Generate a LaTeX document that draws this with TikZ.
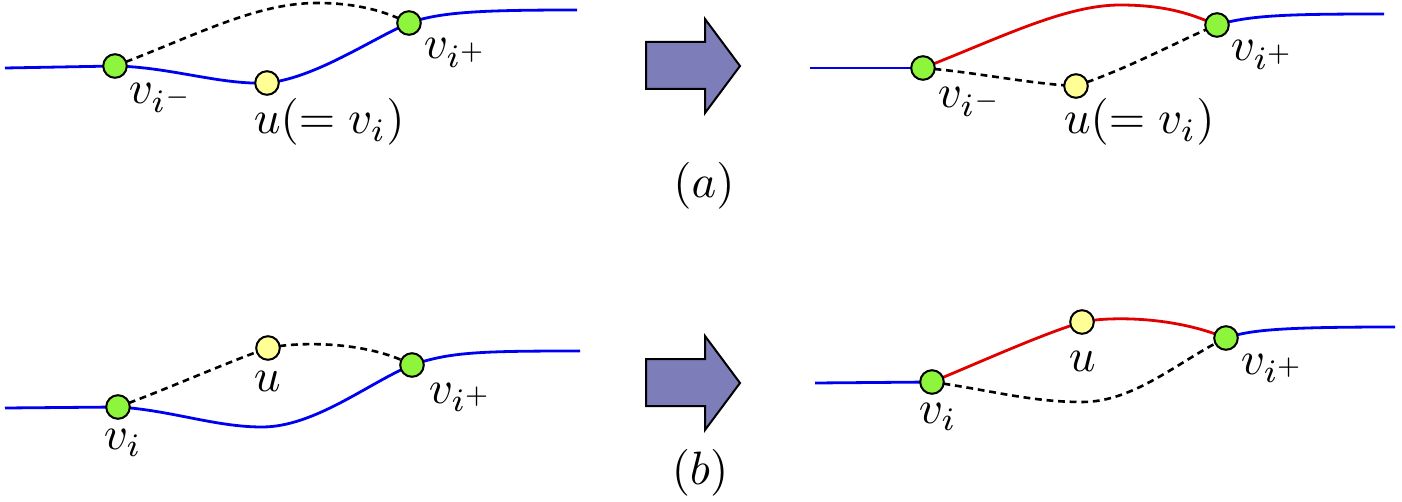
\documentclass[tikz,border=0pt]{standalone}
\usepackage{graphicx}
\definecolor{gfill}{RGB}{140,245,60}
\definecolor{yfill}{RGB}{255,255,150}
\definecolor{afill}{RGB}{125,125,185}
\definecolor{pblue}{RGB}{0,0,240}
\definecolor{pred}{RGB}{225,0,0}
\newcommand{\mylbl}[1]{\scalebox{1.17}{$#1$}}
\tikzset{
  gnode/.style={circle,draw=black,line width=0.5pt,fill=gfill,minimum size=5.9pt,inner sep=0pt},
  ynode/.style={circle,draw=black,line width=0.5pt,fill=yfill,minimum size=5.9pt,inner sep=0pt},
  bline/.style={draw=pblue,line width=0.7pt},
  rline/.style={draw=pred,line width=0.7pt},
  dline/.style={draw=black,line width=0.65pt,dash pattern=on 1.7pt off 1.2pt},
  lbl/.style={anchor=base west,inner sep=0pt},
  captext/.style={anchor=center,inner sep=0pt},
  bigarrow/.style={draw=black,line width=0.5pt,fill=afill,line join=miter}
}
\begin{document}
\begin{tikzpicture}[x=0.25pt,y=-0.25pt]
\useasboundingbox (0,0) rectangle (1402,502);
% ---------- (a) left ----------
\coordinate (L1) at (5,68);
\coordinate (A1) at (115,66);
\coordinate (U1) at (267,83);
\coordinate (B1) at (409,23);
\coordinate (R1) at (577,10);
\coordinate (P1) at (317,3);
\draw[bline] (L1) -- (A1) .. controls (170,67) and (220,85) .. (U1)
  .. controls (315,78) and (370,40) .. (B1) .. controls (440,12) and (480,10) .. (R1);
\draw[dline] (A1) .. controls (195,36) and (255,3) .. (P1) .. controls (365,3) and (392,15) .. (B1);
\node[gnode] (nA1) at (A1) {};
\node[ynode] (nU1) at (U1) {};
\node[gnode] (nB1) at (B1) {};
\node[lbl] (tA1) at (128,104) {\mylbl{v_{i^-}}};
\node[lbl] (tU1) at (253,134) {\mylbl{u(=v_i)}};
\node[lbl] (tB1) at (423,59) {\mylbl{v_{i^+}}};
% ---------- (a) right ----------
\coordinate (L2) at (810,68);
\coordinate (A2) at (923,68);
\coordinate (U2) at (1076,86);
\coordinate (B2) at (1217,25);
\coordinate (R2) at (1384,14);
\coordinate (P2) at (1120,5);
\draw[bline] (L2) -- (A2);
\draw[bline] (B2) .. controls (1250,15) and (1290,14) .. (R2);
\draw[rline] (A2) .. controls (1000,38) and (1065,5) .. (P2) .. controls (1170,5) and (1195,16) .. (B2);
\draw[dline] (A2) .. controls (975,72) and (1030,84) .. (U2);
\draw[dline] (U2) .. controls (1130,68) and (1180,40) .. (B2);
\node[gnode] (nA2) at (A2) {};
\node[ynode] (nU2) at (U2) {};
\node[gnode] (nB2) at (B2) {};
\node[lbl] (tA2) at (937,108) {\mylbl{v_{i^-}}};
\node[lbl] (tU2) at (1063,134) {\mylbl{u(=v_i)}};
\node[lbl] (tB2) at (1230,61) {\mylbl{v_{i^+}}};
% ---------- (b) left ----------
\coordinate (L3) at (5,408);
\coordinate (A3) at (118,407);
\coordinate (U3) at (268,348);
\coordinate (B3) at (412,365);
\coordinate (R3) at (580,351);
\coordinate (D3) at (262,427);
\draw[bline] (L3) -- (A3) .. controls (170,410) and (215,427) .. (D3)
  .. controls (315,427) and (370,382) .. (B3) .. controls (450,352) and (480,351) .. (R3);
\draw[dline] (A3) .. controls (170,388) and (225,363) .. (U3);
\draw[dline] (U3) .. controls (295,342) and (365,340) .. (B3);
\node[gnode] (nA3) at (A3) {};
\node[ynode] (nU3) at (U3) {};
\node[gnode] (nB3) at (B3) {};
\node[lbl] (tA3) at (103,449) {\mylbl{v_i}};
\node[lbl] (tU3) at (253,391) {\mylbl{u}};
\node[lbl] (tB3) at (428,403) {\mylbl{v_{i^+}}};
% ---------- (b) right ----------
\coordinate (L4) at (815,383);
\coordinate (A4) at (932,382);
\coordinate (U4) at (1082,322);
\coordinate (B4) at (1226,338);
\coordinate (R4) at (1395,327);
\coordinate (D4) at (1082,402);
\draw[bline] (L4) -- (A4);
\draw[bline] (B4) .. controls (1250,330) and (1280,327) .. (R4);
\draw[rline] (A4) .. controls (985,360) and (1040,335) .. (U4);
\draw[rline] (U4) .. controls (1105,317) and (1170,315) .. (B4);
\draw[dline] (A4) .. controls (990,390) and (1030,402) .. (D4) .. controls (1135,402) and (1180,360) .. (B4);
\node[gnode] (nA4) at (A4) {};
\node[ynode] (nU4) at (U4) {};
\node[gnode] (nB4) at (B4) {};
\node[lbl] (tA4) at (918,423) {\mylbl{v_i}};
\node[lbl] (tU4) at (1068,371) {\mylbl{u}};
\node[lbl] (tB4) at (1240,374) {\mylbl{v_{i^+}}};
% ---------- arrows ----------
\draw[bigarrow] (646,42) -- (705,42) -- (705,19) -- (740,66) -- (705,113) -- (705,89) -- (646,89) -- cycle;
\draw[bigarrow] (646,359) -- (705,359) -- (705,336) -- (740,383) -- (705,430) -- (705,406) -- (646,406) -- cycle;
% ---------- captions ----------
\node[captext] (capa) at (704,186) {\mylbl{(a)}};
\node[captext] (capb) at (700,473) {\mylbl{(b)}};
\end{tikzpicture}
\end{document}
